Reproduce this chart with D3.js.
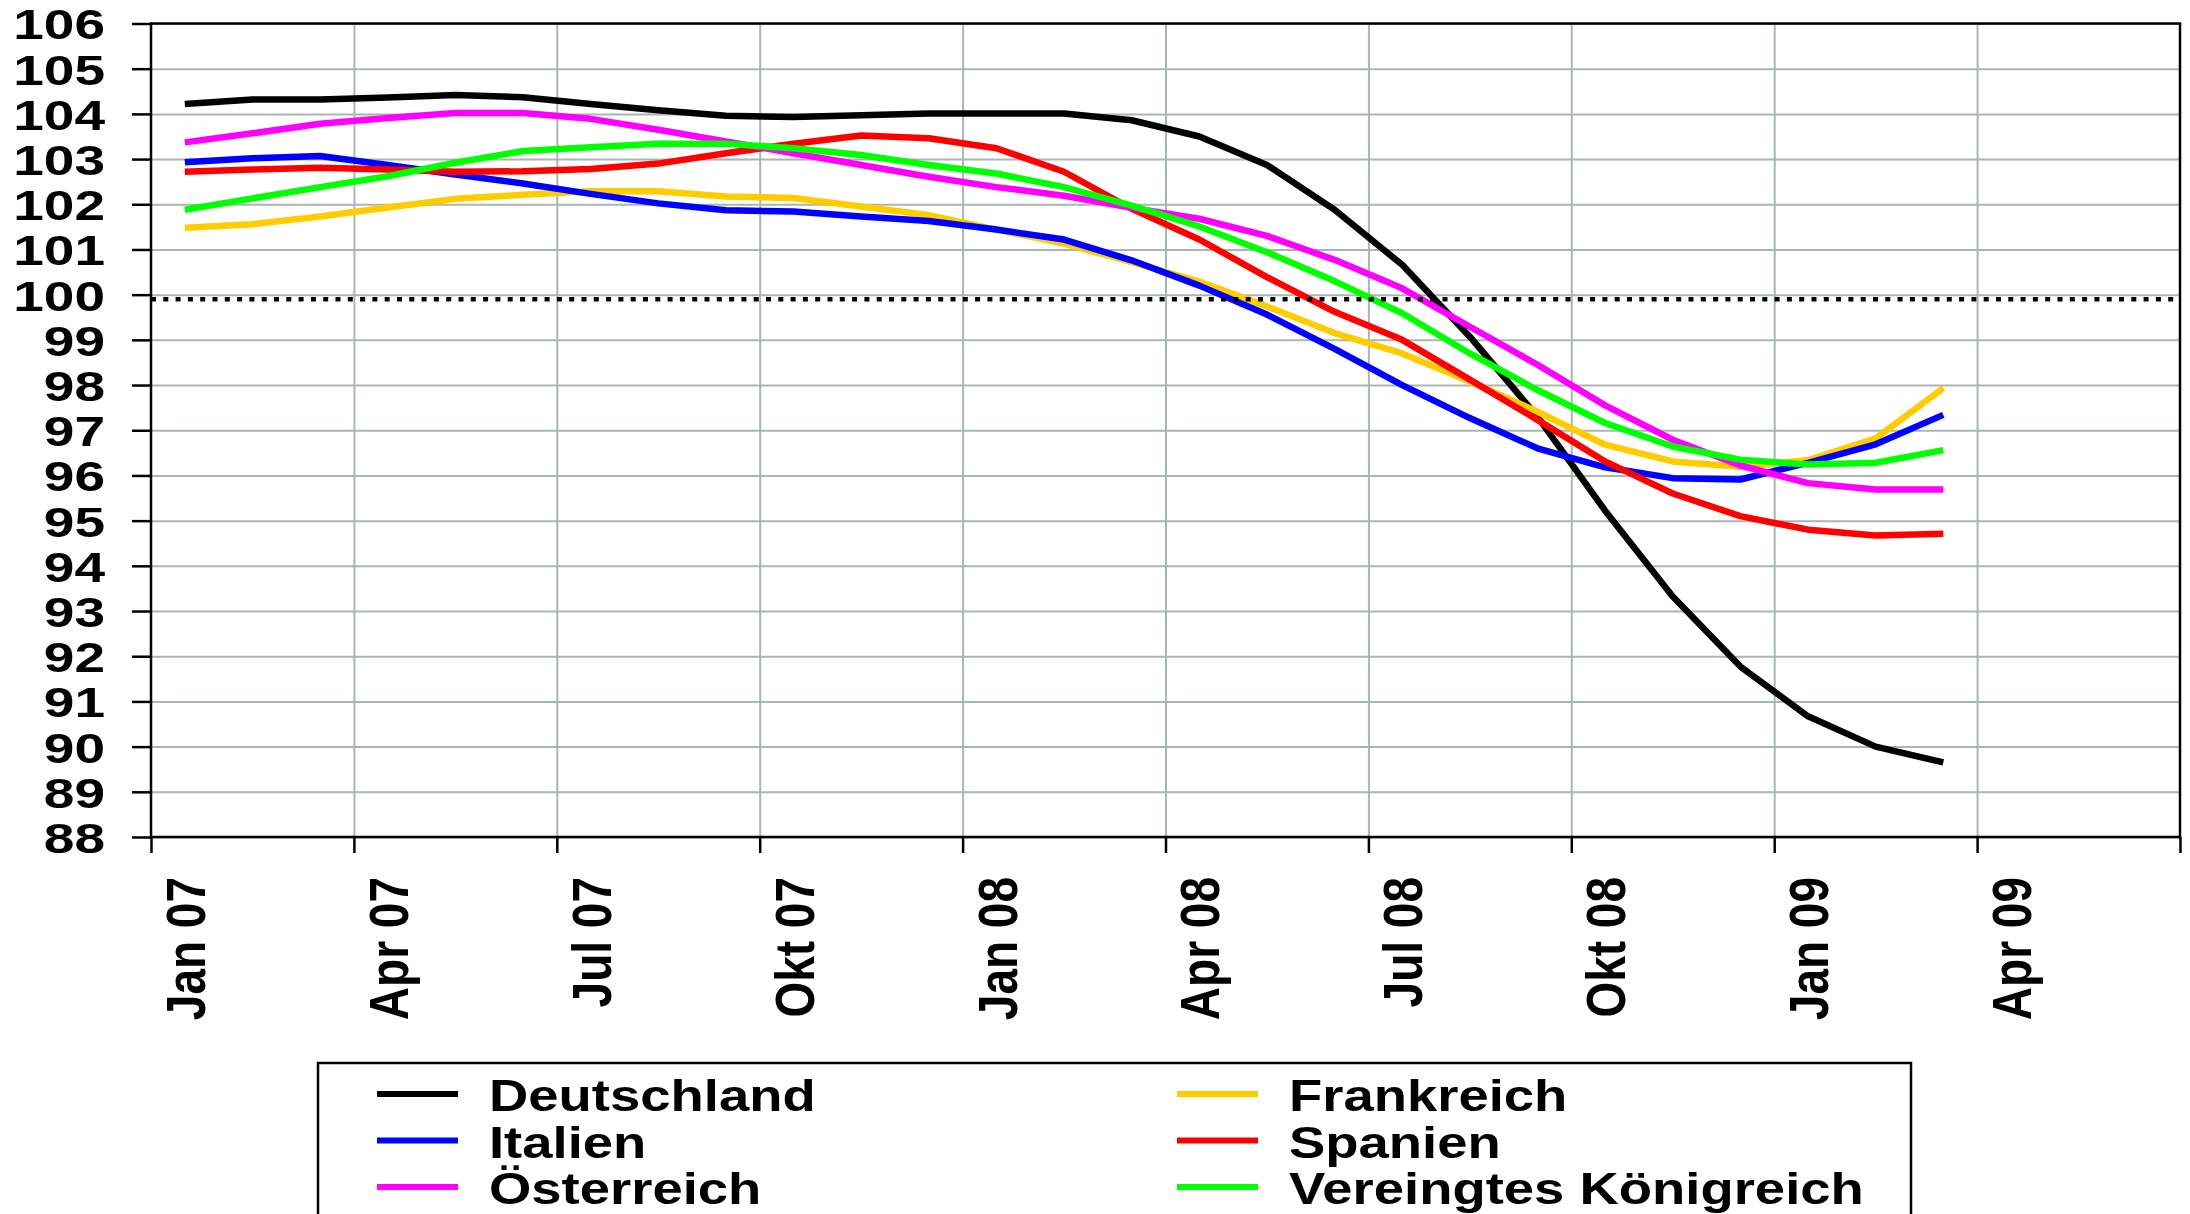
<!DOCTYPE html>
<html>
<head>
<meta charset="utf-8">
<script src="https://cdn.jsdelivr.net/npm/d3@7"></script>
<style>
body { margin:0; background:#fff; }
text { font-family: "Liberation Sans", Arial, sans-serif; font-weight: bold; fill: #000; }
</style>
</head>
<body>
<div id="chart"></div>
<script>
// categories: one slot per month, axis runs to Jun 09, data ends Mar 09
var months = ["Jan 07","Feb 07","Mär 07","Apr 07","Mai 07","Jun 07","Jul 07","Aug 07","Sep 07","Okt 07","Nov 07","Dez 07",
              "Jan 08","Feb 08","Mär 08","Apr 08","Mai 08","Jun 08","Jul 08","Aug 08","Sep 08","Okt 08","Nov 08","Dez 08",
              "Jan 09","Feb 09","Mär 09","Apr 09","Mai 09","Jun 09"];
var monthLabels = ["Jan 07","Apr 07","Jul 07","Okt 07","Jan 08","Apr 08","Jul 08","Okt 08","Jan 09","Apr 09"];
var yTicks = [88,89,90,91,92,93,94,95,96,97,98,99,100,101,102,103,104,105,106];
var refValue = 99.9;

var countries = ["Deutschland","Frankreich","Italien","Spanien","Österreich","Vereingtes Königreich"];
var colors = ["#000000","#ffcc00","#0000ff","#ff0000","#ff00ff","#00ff00"];

var deutschland = [104.22,104.32,104.32,104.36,104.42,104.37,104.22,104.08,103.96,103.93,103.97,104.01,104.01,104.01,103.86,103.50,102.87,101.88,100.66,99.07,97.30,95.22,93.32,91.77,90.67,90.00,89.65];
var frankreich  = [101.48,101.56,101.73,101.93,102.12,102.21,102.29,102.29,102.17,102.14,101.95,101.76,101.44,101.13,100.72,100.29,99.74,99.15,98.70,98.08,97.41,96.68,96.31,96.19,96.34,96.82,97.93];
var italien     = [102.93,103.02,103.07,102.87,102.66,102.46,102.23,102.02,101.87,101.84,101.73,101.63,101.44,101.22,100.76,100.20,99.56,98.80,98.00,97.27,96.60,96.18,95.94,95.91,96.28,96.69,97.34];
var spanien     = [102.72,102.77,102.81,102.77,102.72,102.73,102.78,102.90,103.13,103.34,103.52,103.46,103.24,102.72,101.90,101.22,100.39,99.62,99.00,98.12,97.23,96.31,95.60,95.10,94.80,94.67,94.71];
var oesterreich = [103.37,103.57,103.78,103.91,104.02,104.02,103.89,103.65,103.39,103.13,102.87,102.61,102.38,102.19,101.92,101.68,101.30,100.77,100.14,99.29,98.45,97.55,96.79,96.22,95.83,95.69,95.69];
var vkoenigreich= [101.88,102.13,102.38,102.62,102.92,103.18,103.26,103.34,103.34,103.24,103.09,102.87,102.68,102.38,101.97,101.51,100.94,100.30,99.59,98.70,97.89,97.16,96.64,96.35,96.24,96.28,96.56];
var seriesValues = [deutschland, frankreich, italien, spanien, oesterreich, vkoenigreich];

var widthPage = 2190;
var heightPage = 1214;
var plotArea = {left:151, right:2180, top:23.5, bottom:837};
var gridColor = "#aab6b1";

var svg = d3.select("#chart").append("svg").attr("width", widthPage).attr("height", heightPage);

var xBand = d3.scaleBand().domain(months).range([plotArea.left, plotArea.right]).paddingInner(0).paddingOuter(0);
var xSlot = d3.scaleLinear().domain([0, months.length]).range([plotArea.left, plotArea.right]);
var y = d3.scaleLinear().domain([88, 106]).range([plotArea.bottom, plotArea.top]);

// gridlines
svg.append("g").attr("transform", `translate(${plotArea.left},0)`)
    .call(d3.axisLeft(y).tickValues(yTicks).tickSize(-(plotArea.right - plotArea.left)).tickFormat(""))
    .call(g => g.select(".domain").remove())
    .selectAll("line").attr("stroke", gridColor).attr("stroke-width", 2);
svg.append("g").attr("transform", `translate(0,${plotArea.bottom})`)
    .call(d3.axisBottom(xSlot).tickValues(d3.range(3, months.length, 3)).tickSize(-(plotArea.bottom - plotArea.top)).tickFormat(""))
    .call(g => g.select(".domain").remove())
    .selectAll("line").attr("stroke", gridColor).attr("stroke-width", 2);

// series
var line = d3.line()
    .x((d, i) => xBand(months[i]) + xBand.bandwidth() / 2)
    .y(d => y(d));
svg.append("g").selectAll("path").data(seriesValues).enter().append("path")
    .attr("d", line)
    .attr("fill", "none")
    .attr("stroke", (d, i) => colors[i])
    .attr("stroke-width", 6.5)
    .attr("stroke-linejoin", "round");

// dotted 100 line
svg.append("line")
    .attr("x1", plotArea.left).attr("x2", plotArea.right - 6)
    .attr("y1", y(refValue)).attr("y2", y(refValue))
    .attr("stroke", "#000").attr("stroke-width", 4.5).attr("stroke-dasharray", "5,7.3");

// frame
svg.append("rect")
    .attr("x", plotArea.left).attr("y", plotArea.top)
    .attr("width", plotArea.right - plotArea.left).attr("height", plotArea.bottom - plotArea.top)
    .attr("fill", "none").attr("stroke", "#000").attr("stroke-width", 2.5);

// y axis
var ySx = 1.28;
var yAxis = svg.append("g").attr("transform", `translate(${plotArea.left},0)`)
    .call(d3.axisLeft(y).tickValues(yTicks).tickSize(19).tickFormat(d3.format("d")))
    .call(g => g.select(".domain").remove());
yAxis.selectAll("line").attr("stroke", "#000").attr("stroke-width", 2.5);
yAxis.selectAll("text")
    .attr("font-size", 43).attr("font-family", null)
    .attr("x", -46 / ySx).attr("dy", "0.36em")
    .attr("transform", `scale(${ySx},1)`);

// x axis ticks at slot boundaries
var xTickAxis = svg.append("g").attr("transform", `translate(0,${plotArea.bottom})`)
    .call(d3.axisBottom(xSlot).tickValues(d3.range(0, months.length + 1, 3)).tickSize(16).tickFormat(""))
    .call(g => g.select(".domain").remove());
xTickAxis.selectAll("line").attr("stroke", "#000").attr("stroke-width", 2.5);

// x labels at category centres, rotated
var xSy = 1.22;
var xFont = 46;
var xLabels = svg.append("g").attr("transform", `translate(0,${plotArea.bottom})`)
    .call(d3.axisBottom(xBand).tickValues(monthLabels).tickSize(0))
    .call(g => g.select(".domain").remove());
xLabels.selectAll("text")
    .attr("font-size", xFont).attr("font-family", null)
    .attr("text-anchor", "end")
    .attr("x", 0).attr("y", 0).attr("dy", 0)
    .attr("transform", `translate(${0.716 * xFont * xSy / 2},40) rotate(-90) scale(1,${xSy})`);

// legend
var legend = svg.append("g");
legend.append("rect")
    .attr("x", 318).attr("y", 1063).attr("width", 1593).attr("height", 200)
    .attr("fill", "#fff").attr("stroke", "#000").attr("stroke-width", 2.5);
var legSx = 1.21;
var items = legend.selectAll(".item").data(countries).enter().append("g")
    .attr("transform", (d, i) => `translate(${377 + (i % 2) * 800},${1094 + Math.floor(i / 2) * 46.5})`);
items.append("line")
    .attr("x1", 0).attr("x2", 81).attr("y1", 0).attr("y2", 0)
    .attr("stroke", (d, i) => colors[i]).attr("stroke-width", 6);
items.append("text")
    .attr("font-size", 45)
    .attr("transform", `translate(112,17) scale(${legSx},1)`)
    .text(d => d);
</script>
</body>
</html>
